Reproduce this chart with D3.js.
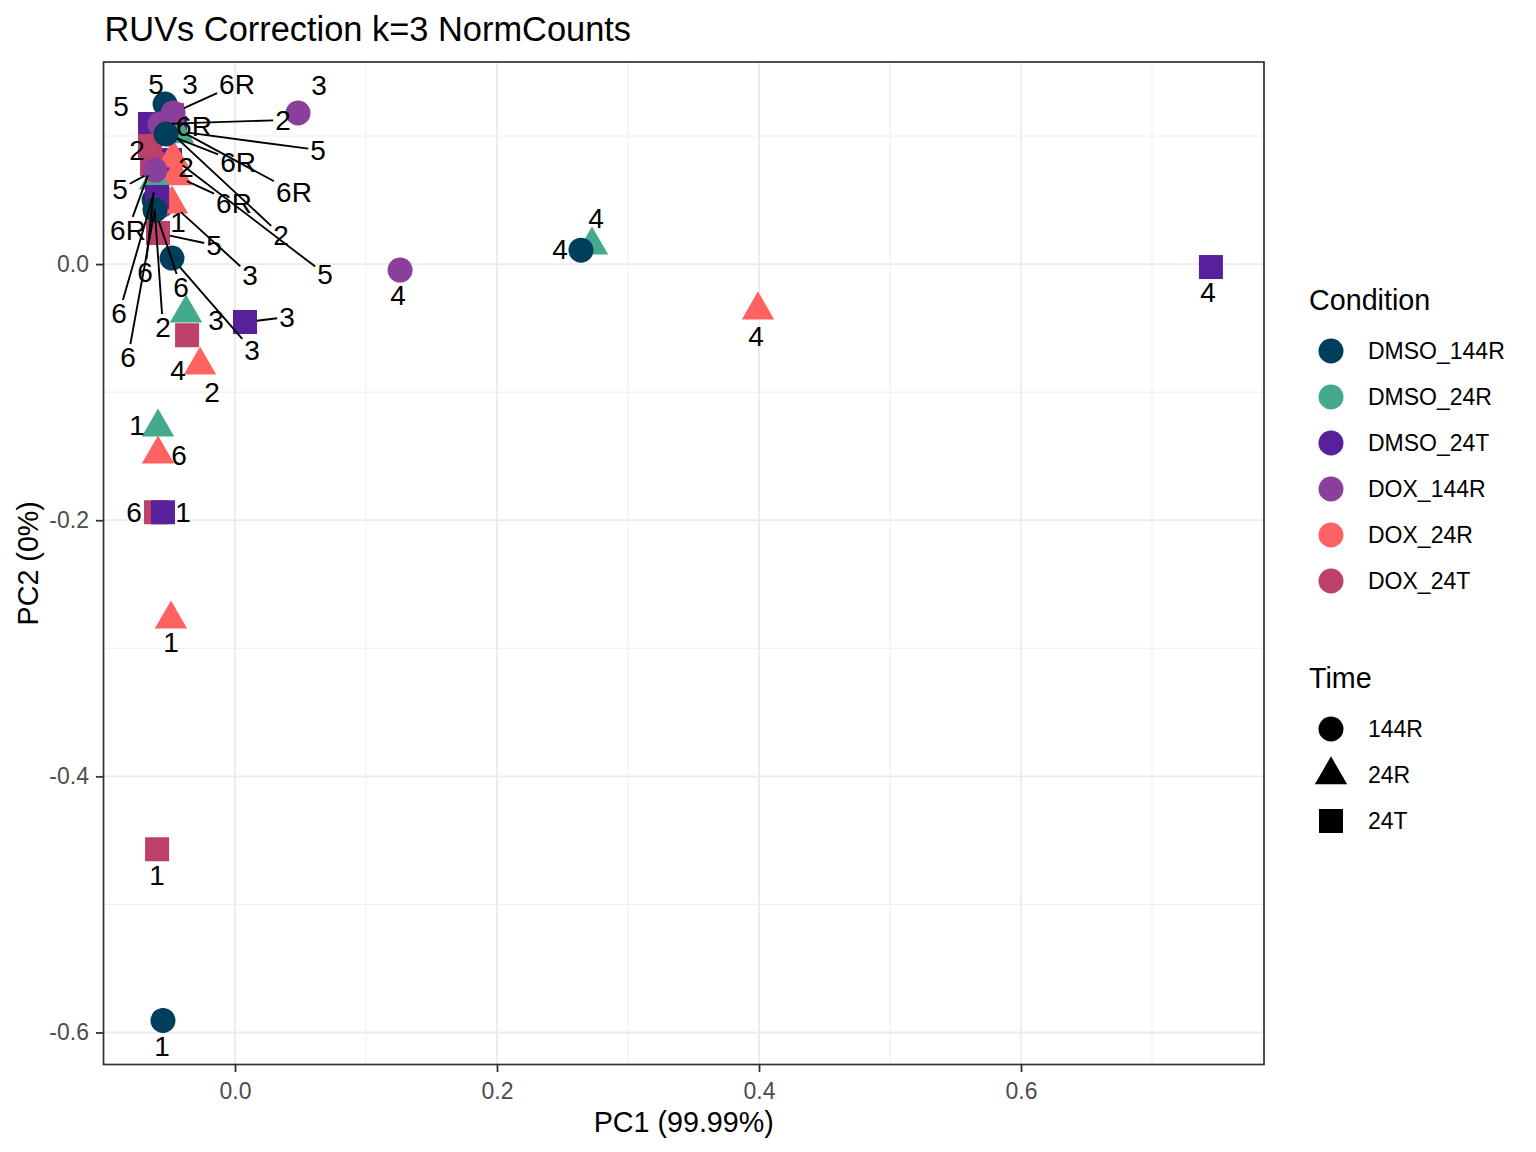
<!DOCTYPE html>
<html>
<head>
<meta charset="utf-8">
<script src="https://cdn.jsdelivr.net/npm/d3@7"></script>
<style>
  body { margin: 0; background: #ffffff; }
  svg { display: block; }
  text { font-family: "Liberation Sans", Arial, Helvetica, sans-serif; }
</style>
</head>
<body>
<svg id="chart" width="1536" height="1152"></svg>
<script>
// ---------------- data ----------------
const titleText = "RUVs Correction k=3 NormCounts";
const xAxisTitle = "PC1 (99.99%)";
const yAxisTitle = "PC2 (0%)";
const conditionNames = ["DMSO_144R", "DMSO_24R", "DMSO_24T", "DOX_144R", "DOX_24R", "DOX_24T"];
const conditionColors = ["#003f5c", "#45a98d", "#58209b", "#8a3f9a", "#ff6361", "#bc4068"];
const timeNames = ["144R", "24R", "24T"];
const xTicks = [0, 0.2, 0.4, 0.6];
const xTickLabels = ["0.0", "0.2", "0.4", "0.6"];
const yTicks = [0, -0.2, -0.4, -0.6];
const yTickLabels = ["0.0", "-0.2", "-0.4", "-0.6"];
const xMinor = [-0.1, 0.1, 0.3, 0.5, 0.7];
const yMinor = [0.1, -0.1, -0.3, -0.5];
const xDomain = [-0.1004, 0.7855];
const yDomain = [-0.625, 0.1578];

// samples, in drawing order
const sampleLabel = ["4","4","1","3","1","3","6","1","3","4","3","4","1","2","4","6","1","4",
  "2","2","5","2","6R","1","6","3",
  "5","2","6R","6R","5","5","2","6R","6R","6R","6","5","3","6","5","6"];
const sampleCondition = ["DMSO_24R","DMSO_144R","DMSO_144R","DMSO_144R","DMSO_24R","DMSO_24R","DOX_24T","DMSO_24T","DMSO_24T","DMSO_24T","DOX_144R","DOX_144R","DOX_24R","DOX_24R","DOX_24R","DOX_24R","DOX_24T","DOX_24T",
  "DMSO_144R","DMSO_24R","DMSO_24R","DMSO_24T","DMSO_24T","DOX_144R","DOX_144R","DOX_24T",
  "DMSO_24T","DOX_24T","DOX_24T","DMSO_24R","DOX_24R","DMSO_144R","DOX_144R","DOX_144R","DMSO_144R","DOX_24R","DMSO_24R","DOX_144R","DOX_24R","DMSO_24T","DOX_24T","DMSO_144R"];
const pc1 = [0.2725, 0.2641, -0.0550, -0.0481, -0.0588, -0.0374, -0.0603, -0.0550, 0.0076, 0.7450, 0.0481, 0.1260, -0.0489, -0.0267, 0.3992, -0.0588, -0.0595, -0.0366,
  -0.0618, -0.0511, -0.0450, -0.0496, -0.0458, -0.0557, -0.0595, -0.0481,
  -0.0649, -0.0649, -0.0634, -0.0435, -0.0473, -0.0534, -0.0573, -0.0473, -0.0527, -0.0450, -0.0611, -0.0611, -0.0481, -0.0595, -0.0588, -0.0611];
const pc2 = [0.0148, 0.0109, -0.5906, 0.0047, -0.1273, -0.0383, -0.1938, -0.1938, -0.0453, -0.0023, 0.1180, -0.0047, -0.2773, -0.0789, -0.0359, -0.1484, -0.4570, -0.0555,
  0.0500, 0.1047, 0.1039, 0.0813, 0.1063, 0.0461, 0.0641, 0.1164,
  0.1094, 0.0922, 0.0781, 0.1016, 0.0828, 0.1250, 0.1094, 0.1180, 0.1016, 0.0688, 0.0656, 0.0734, 0.0469, 0.0523, 0.0242, 0.0422];
// repelled label positions (data units)
const labelPc1 = [0.2756, 0.2481, -0.0557, 0.0130, -0.0748, -0.0145, -0.0771, -0.0397, 0.0397, 0.7427, 0.0641, 0.1244, -0.0489, -0.0176, 0.3977, -0.0427, -0.0595, -0.0435,
  -0.0550, 0.0351, 0.0634, -0.0374, 0.0450, -0.0435, -0.0885, -0.0344,
  -0.0870, -0.0748, -0.0817, -0.0313, 0.0687, -0.0603, 0.0366, 0.0015, 0.0023, -0.0008, -0.0687, -0.0878, 0.0115, -0.0817, -0.0160, -0.0412];
const labelPc2 = [0.0359, 0.0117, -0.6102, -0.0672, -0.1258, -0.0438, -0.1938, -0.1938, -0.0414, -0.0219, 0.1398, -0.0242, -0.2953, -0.1000, -0.0563, -0.1492, -0.4773, -0.0828,
  -0.0492, 0.0227, 0.0891, 0.0758, 0.0563, 0.0328, -0.0383, 0.1406,
  0.1234, 0.0891, 0.0266, 0.1078, -0.0078, 0.1406, 0.1125, 0.1406, 0.0797, 0.0477, -0.0063, 0.0586, -0.0086, -0.0727, 0.0148, -0.0180];

// ---------------- layout ----------------
const panel = { left: 103.5, right: 1264, top: 62, bottom: 1064.5 };
const fsTitle = 34.4, fsAxisTitle = 28.7, fsTick = 23, fsLegendTitle = 28.7, fsLegend = 23, fsLabel = 28;

const svg = d3.select("#chart");
svg.append("rect").attr("width", 1536).attr("height", 1152).attr("fill", "#ffffff");

const x = d3.scaleLinear().domain(xDomain).range([panel.left, panel.right]);
const y = d3.scaleLinear().domain(yDomain).range([panel.bottom, panel.top]);
const color = d3.scaleOrdinal().domain(conditionNames).range(conditionColors);
const timeOf = c => c.split("_")[1];

function shapePath(shape) {
  if (shape === "144R") {
    const r = 12.5;
    return `M${-r},0A${r},${r} 0 1,0 ${r},0A${r},${r} 0 1,0 ${-r},0Z`;
  }
  if (shape === "24T") {
    const h = 12;
    return `M${-h},${-h}H${h}V${h}H${-h}Z`;
  }
  const r = 18.7, xc = r * Math.sqrt(3) / 2;
  return `M0,${-r}L${xc},${r / 2}L${-xc},${r / 2}Z`;
}

// panel background + grid
const grid = svg.append("g");
grid.selectAll("line.xmin").data(xMinor).join("line")
  .attr("x1", d => x(d)).attr("x2", d => x(d)).attr("y1", panel.top).attr("y2", panel.bottom)
  .attr("stroke", "#ebebeb").attr("stroke-width", 0.9);
grid.selectAll("line.ymin").data(yMinor).join("line")
  .attr("y1", d => y(d)).attr("y2", d => y(d)).attr("x1", panel.left).attr("x2", panel.right)
  .attr("stroke", "#ebebeb").attr("stroke-width", 0.9);
grid.selectAll("line.xmaj").data(xTicks).join("line")
  .attr("x1", d => x(d)).attr("x2", d => x(d)).attr("y1", panel.top).attr("y2", panel.bottom)
  .attr("stroke", "#ebebeb").attr("stroke-width", 1.8);
grid.selectAll("line.ymaj").data(yTicks).join("line")
  .attr("y1", d => y(d)).attr("y2", d => y(d)).attr("x1", panel.left).attr("x2", panel.right)
  .attr("stroke", "#ebebeb").attr("stroke-width", 1.8);

// rows
const rows = sampleLabel.map((s, i) => ({
  label: s, cond: sampleCondition[i], pc1: pc1[i], pc2: pc2[i], lx: labelPc1[i], ly: labelPc2[i]
}));

const clipId = "panelclip";
svg.append("clipPath").attr("id", clipId).append("rect")
  .attr("x", panel.left).attr("y", panel.top)
  .attr("width", panel.right - panel.left).attr("height", panel.bottom - panel.top);

const plot = svg.append("g").attr("clip-path", `url(#${clipId})`);

// points
plot.append("g").selectAll("path").data(rows).join("path")
  .attr("transform", d => `translate(${x(d.pc1)},${y(d.pc2)})`)
  .attr("d", d => shapePath(timeOf(d.cond)))
  .attr("fill", d => color(d.cond));

// labels with segments
const segG = plot.append("g");
const textG = plot.append("g");
rows.forEach(r => {
  const lx = x(r.lx), ly = y(r.ly);
  const t = textG.append("text")
    .attr("x", lx).attr("y", ly + 0.36 * fsLabel)
    .attr("text-anchor", "middle")
    .attr("font-size", fsLabel).attr("fill", "#000000")
    .text(r.label);
  const w = t.node().getComputedTextLength();
  const hw = w / 2 + 2, hh = 0.36 * fsLabel + 3;
  const px = x(r.pc1), py = y(r.pc2);
  const dx = px - lx, dy = py - ly;
  if (Math.abs(dx) <= hw && Math.abs(dy) <= hh) return;
  const s = Math.min(hw / Math.max(Math.abs(dx), 1e-9), hh / Math.max(Math.abs(dy), 1e-9));
  const ex = lx + dx * s, ey = ly + dy * s;
  const len = Math.hypot(ex - px, ey - py);
  const rad = 12;
  if (len - rad < 12) return;
  const ux = (ex - px) / len, uy = (ey - py) / len;
  segG.append("line")
    .attr("x1", px + ux * rad).attr("y1", py + uy * rad)
    .attr("x2", ex).attr("y2", ey)
    .attr("stroke", "#000000").attr("stroke-width", 1.9);
});

// panel border
svg.append("rect")
  .attr("x", panel.left).attr("y", panel.top)
  .attr("width", panel.right - panel.left).attr("height", panel.bottom - panel.top)
  .attr("fill", "none").attr("stroke", "#333333").attr("stroke-width", 1.7);

// axes
const xAxis = d3.axisBottom(x).tickValues(xTicks)
  .tickFormat((d, i) => xTickLabels[i]).tickSize(7.5).tickPadding(10.5);
const gx = svg.append("g").attr("transform", `translate(0,${panel.bottom})`).call(xAxis);
gx.select(".domain").remove();
gx.selectAll(".tick line").attr("stroke", "#333333").attr("stroke-width", 1.8);
gx.selectAll(".tick text").attr("fill", "#4d4d4d").attr("font-size", fsTick)
  .attr("font-family", '"Liberation Sans", Arial, sans-serif');

const yAxis = d3.axisLeft(y).tickValues(yTicks)
  .tickFormat((d, i) => yTickLabels[i]).tickSize(7.5).tickPadding(7);
const gy = svg.append("g").attr("transform", `translate(${panel.left},0)`).call(yAxis);
gy.select(".domain").remove();
gy.selectAll(".tick line").attr("stroke", "#333333").attr("stroke-width", 1.8);
gy.selectAll(".tick text").attr("fill", "#4d4d4d").attr("font-size", fsTick)
  .attr("font-family", '"Liberation Sans", Arial, sans-serif');

// titles
svg.append("text").attr("x", 104.5).attr("y", 41)
  .attr("font-size", fsTitle).attr("fill", "#000000").text(titleText);
svg.append("text").attr("x", (panel.left + panel.right) / 2).attr("y", 1132)
  .attr("text-anchor", "middle").attr("font-size", fsAxisTitle).attr("fill", "#000000").text(xAxisTitle);
svg.append("text")
  .attr("transform", `translate(38,${(panel.top + panel.bottom) / 2}) rotate(-90)`)
  .attr("text-anchor", "middle").attr("font-size", fsAxisTitle).attr("fill", "#000000").text(yAxisTitle);

// legends
const legKeyX = 1331, legTextX = 1368, legStep = 46;
const leg1 = svg.append("g");
leg1.append("text").attr("x", 1309).attr("y", 310).attr("font-size", fsLegendTitle).attr("fill", "#000000").text("Condition");
conditionNames.forEach((c, i) => {
  const cy = 351 + i * legStep;
  leg1.append("path").attr("transform", `translate(${legKeyX},${cy})`).attr("d", shapePath("144R")).attr("fill", color(c));
  leg1.append("text").attr("x", legTextX).attr("y", cy + 8.2).attr("font-size", fsLegend).attr("fill", "#000000").text(c);
});
const leg2 = svg.append("g");
leg2.append("text").attr("x", 1309).attr("y", 688).attr("font-size", fsLegendTitle).attr("fill", "#000000").text("Time");
timeNames.forEach((t, i) => {
  const cy = 729 + i * legStep;
  leg2.append("path").attr("transform", `translate(${legKeyX},${cy})`).attr("d", shapePath(t)).attr("fill", "#000000");
  leg2.append("text").attr("x", legTextX).attr("y", cy + 8.2).attr("font-size", fsLegend).attr("fill", "#000000").text(t);
});
</script>
</body>
</html>
